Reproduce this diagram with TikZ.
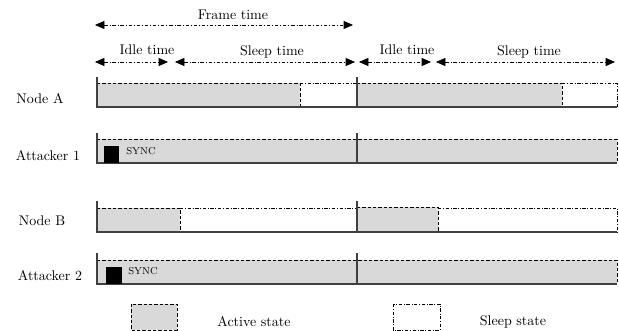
\documentclass[tikz,border=0pt]{standalone}
\usepackage{tikz}
\usetikzlibrary{arrows.meta}
\definecolor{ActiveGray}{HTML}{D9D9D9}
\definecolor{Axis}{HTML}{404040}
\tikzset{
  rowlabel/.style={font=\fontsize{10.5}{12}\selectfont,anchor=center,inner sep=0pt},
  timelabel/.style={font=\fontsize{10.5}{12}\selectfont,anchor=center,inner sep=0pt},
  legendlabel/.style={font=\fontsize{10.5}{12}\selectfont,anchor=center,inner sep=0pt},
  synclabel/.style={font=\fontsize{7.5}{9}\selectfont,anchor=west,inner sep=0pt},
  axisline/.style={draw=Axis,line width=0.9pt},
  activefill/.style={fill=ActiveGray},
  activeline/.style={draw=black,line width=0.5pt,dash pattern=on 2.5pt off 1.5pt},
  sleepline/.style={draw=black,line width=0.5pt,dash pattern=on 2.5pt off 1.3pt on 0.6pt off 1.3pt},
  dimarrow/.style={{Triangle[length=7pt,width=6pt]}-{Triangle[length=7pt,width=6pt]},
    line width=0.5pt,dash pattern=on 2.5pt off 1.5pt on 0.6pt off 1.5pt}
}

\begin{document}
\begin{tikzpicture}[x=0.75pt,y=-0.75pt]
  \useasboundingbox (0,0) rectangle (619,331);
  % time spans
  \coordinate (frameL) at (95,25);   \coordinate (frameR) at (353,25);
  \coordinate (idleAL) at (95,62);   \coordinate (idleAR) at (168,62);
  \coordinate (sleepAL) at (175,62); \coordinate (sleepAR) at (355,62);
  \coordinate (idleBL) at (359,62);  \coordinate (idleBR) at (431,62);
  \coordinate (sleepBL) at (436,62); \coordinate (sleepBR) at (615,62);
  \draw[dimarrow] (frameL) -- (frameR);
  \draw[dimarrow] (idleAL) -- (idleAR);
  \draw[dimarrow] (sleepAL) -- (sleepAR);
  \draw[dimarrow] (idleBL) -- (idleBR);
  \draw[dimarrow] (sleepBL) -- (sleepBR);
  \node[timelabel] (frametxt) at (233,15) {Frame time};
  \node[timelabel] (idleAtxt) at (147,50) {Idle time};
  \node[timelabel] (sleepAtxt) at (272,52) {Sleep time};
  \node[timelabel] (idleBtxt) at (407,50) {Idle time};
  \node[timelabel] (sleepBtxt) at (529,52) {Sleep time};

  % Node A
  \node[rowlabel] (nodeA) at (40,99) {Node A};
  \fill[activefill] (97,83) rectangle (300,107);
  \fill[activefill] (357,83) rectangle (562,107);
  \draw[activeline] (97,83) -- (300,83) -- (300,107);
  \draw[sleepline] (300,83) -- (357,83);
  \draw[activeline] (357,83) -- (562,83) -- (562,107);
  \draw[sleepline] (562,83) -- (617,83) -- (617,107);
  \draw[axisline] (97,77) -- (97,107) -- (617,107);
  \draw[axisline] (357,77) -- (357,107);

  % Attacker 1
  \node[rowlabel] (attackA) at (48,156) {Attacker 1};
  \fill[activefill] (97,139) rectangle (617,163);
  \draw[activeline] (97,139) -- (617,139) -- (617,163);
  \draw[axisline] (97,133) -- (97,163) -- (617,163);
  \draw[axisline] (357,133) -- (357,163);
  \fill[black] (104,146) rectangle (119,163);
  \node[synclabel] (syncA) at (126,151) {SYNC};

  % Node B
  \node[rowlabel] (nodeB) at (42,221) {Node B};
  \fill[activefill] (97,208) rectangle (180,232);
  \fill[activefill] (357,207) rectangle (438,232);
  \draw[activeline] (97,208) -- (180,208) -- (180,232);
  \draw[sleepline] (180,208) -- (357,208);
  \draw[activeline] (357,207) -- (438,207) -- (438,232);
  \draw[sleepline] (438,208) -- (617,208) -- (617,232);
  \draw[axisline] (97,201) -- (97,232) -- (617,232);
  \draw[axisline] (357,201) -- (357,232);

  % Attacker 2
  \node[rowlabel] (attackB) at (50,276) {Attacker 2};
  \fill[activefill] (97,260) rectangle (617,284);
  \draw[activeline] (97,260) -- (617,260) -- (617,284);
  \draw[axisline] (97,253) -- (97,284) -- (617,284);
  \draw[axisline] (357,253) -- (357,284);
  \fill[black] (106,267) rectangle (122,284);
  \node[synclabel] (syncB) at (128,271) {SYNC};

  % legend
  \draw[activefill,activeline] (131,304) rectangle (177,330);
  \node[legendlabel] (activetxt) at (254,322) {Active state};
  \draw[sleepline] (393,304) rectangle (440,330);
  \node[legendlabel] (sleeptxt) at (513,322) {Sleep state};
\end{tikzpicture}
\end{document}
